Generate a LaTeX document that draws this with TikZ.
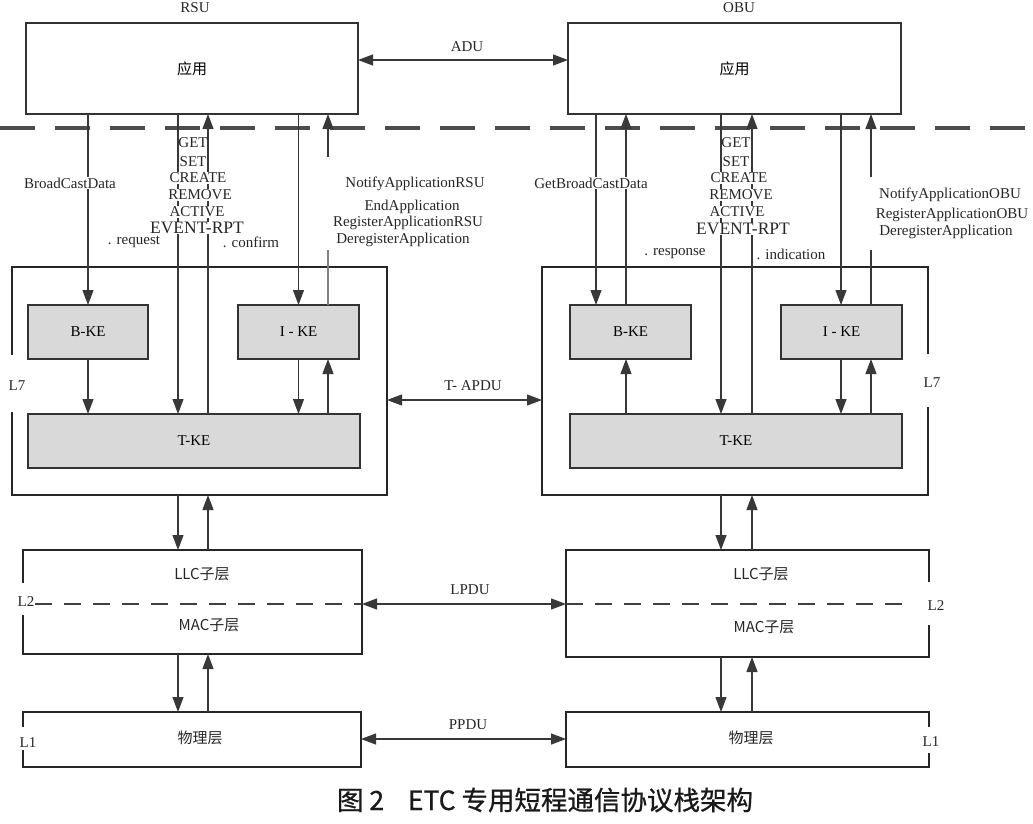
\documentclass[tikz,border=0pt]{standalone}
\usepackage{fontspec}
\setmainfont{Liberation Serif}
\newfontfamily\cjk{Noto Sans CJK SC}
\newfontfamily\cjkcap[FakeBold=0.8]{Noto Sans CJK SC}
\usetikzlibrary{arrows.meta,calc}
\begin{document}
\begin{tikzpicture}[x=1pt,y=-1pt,
 ln/.style={draw=black!78, line width=1.1pt},
 ar/.style={ln, -{Triangle[length=15pt,width=11pt]}},
 dar/.style={ln, {Triangle[length=15pt,width=11pt]}-{Triangle[length=15pt,width=11pt]}},
 box/.style={draw=black!80, line width=1.5pt, inner sep=0, outer sep=0},
 ke/.style={box, fill=black!15, font=\fontsize{15}{16}\selectfont},
 ghost/.style={inner sep=0, outer sep=0},
 frame/.style={draw=black!85, line width=2.2pt},
 tx/.style={inner sep=0.5pt, font=\fontsize{15}{16}\selectfont, text=black!85},
 wt/.style={tx, fill=white},
 big/.style={wt, font=\fontsize{17.5}{18}\selectfont},
 cj/.style={tx, font=\cjk\fontsize{15}{16}\selectfont},
]
\useasboundingbox (0,0) rectangle (1033,823);
\fill[white] (0,0) rectangle (1033,823);

% thick dashed separator
\draw[line width=4pt, draw=black!70, dash pattern=on 35pt off 20pt] (0,128) -- (1033,128);

% application boxes
\node[tx] (rsu) at (195,8) {RSU};
\node[tx] (obu) at (739,8) {OBU};
\node[box, minimum width=332, minimum height=91, font=\cjk\fontsize{15}{16}\selectfont] (rapp) at (192,68.5) {应用};
\node[box, minimum width=333, minimum height=91, font=\cjk\fontsize{15}{16}\selectfont] (oapp) at (734.5,68.5) {应用};

% L7 frames (ghost nodes + drawn borders)
\node[ghost, minimum width=375, minimum height=228] (rl7) at (199.5,381) {};
\node[ghost, minimum width=386, minimum height=228] (ol7) at (735,381) {};
\draw[frame] (12,355) |- (387,267) |- (12,495) -- (12,412);
\draw[frame] (928,354) |- (542,267) |- (928,495) -- (928,407);

% KE boxes
\node[ke, minimum width=120, minimum height=54] (rbke) at (88,332) {B-KE};
\node[ke, minimum width=121, minimum height=54] (rike) at (298.5,332) {I - KE};
\node[ke, minimum width=332, minimum height=54] (rtke) at (194,441) {T-KE};
\node[ke, minimum width=121, minimum height=54] (obke) at (630.5,332) {B-KE};
\node[ke, minimum width=121, minimum height=54] (oike) at (841.5,332) {I - KE};
\node[ke, minimum width=332, minimum height=54] (otke) at (736,441) {T-KE};

% LLC/MAC frames
\node[ghost, minimum width=339, minimum height=104] (rllc) at (192.5,602) {};
\node[ghost, minimum width=363, minimum height=107] (ollc) at (747.5,603.5) {};
\draw[frame] (23,583) |- (362,550) |- (23,654) -- (23,615);
\draw[frame] (929,582) |- (566,550) |- (929,657) -- (929,625);
\draw[draw=black!75, line width=2pt, dash pattern=on 17pt off 12pt] (35,604) -- (362,604);
\draw[draw=black!75, line width=2pt, dash pattern=on 17pt off 12pt] (566,604) -- (913,604);

% physical frames
\node[ghost, minimum width=338, minimum height=55] (rphy) at (192,739.5) {};
\node[ghost, minimum width=363, minimum height=55] (ophy) at (747.5,739.5) {};
\draw[frame] (23,727) |- (361,712) |- (23,767) -- (23,750);
\draw[frame] (929,727) |- (566,712) |- (929,767) -- (929,753);

% coordinates for connector columns
\coordinate (xa) at (178,0);
\coordinate (xb) at (208,0);
\coordinate (xc) at (328,0);
\coordinate (xd) at (596,0);
\coordinate (xe) at (626,0);
\coordinate (xf) at (721,0);
\coordinate (xg) at (752,0);
\coordinate (xh) at (841,0);
\coordinate (xi) at (871,0);
\coordinate (rn1) at (328,157);
\coordinate (rn2) at (328,250);
\coordinate (on1) at (871,177);
\coordinate (on2) at (871,250);
\coordinate (yadu) at (0,60);
\coordinate (yapdu) at (0,400);
\coordinate (ylpdu) at (0,604);
\coordinate (yppdu) at (0,739);

% RSU connectors
\draw[ar] (rapp.south -| rbke.north) -- (rbke.north);
\draw[ar] (rapp.south -| xa) -- (rtke.north -| xa);
\draw[ar] (rtke.north -| xb) -- (rapp.south -| xb);
\draw[ar] (rapp.south -| rike.north) -- (rike.north);
\draw[ln, draw=black!50] (rike.north -| rn2) -- (rn2);
\draw[ar] (rn1) -- (rapp.south -| rn1);
\draw[ar] (rbke.south) -- (rtke.north -| rbke.south);
\draw[ar] (rike.south) -- (rtke.north -| rike.south);
\draw[ar] (rtke.north -| xc) -- (rike.south -| xc);
\draw[ar] (rl7.south -| xa) -- (rllc.north -| xa);
\draw[ar] (rllc.north -| xb) -- (rl7.south -| xb);
\draw[ar] (rllc.south -| xa) -- (rphy.north -| xa);
\draw[ar] (rphy.north -| xb) -- (rllc.south -| xb);

% OBU connectors
\draw[ar] (oapp.south -| xd) -- (obke.north -| xd);
\draw[ar] (obke.north -| xe) -- (oapp.south -| xe);
\draw[ar] (oapp.south -| xf) -- (otke.north -| xf);
\draw[ar] (otke.north -| xg) -- (oapp.south -| xg);
\draw[ar] (oapp.south -| xh) -- (oike.north -| xh);
\draw[ln] (oike.north -| on2) -- (on2);
\draw[ar] (on1) -- (oapp.south -| on1);
\draw[ar] (otke.north -| xe) -- (obke.south -| xe);
\draw[ar] (oike.south -| xh) -- (otke.north -| xh);
\draw[ar] (otke.north -| xi) -- (oike.south -| xi);
\draw[ar] (ol7.south -| xf) -- (ollc.north -| xf);
\draw[ar] (ollc.north -| xg) -- (ol7.south -| xg);
\draw[ar] (ollc.south -| xf) -- (ophy.north -| xf);
\draw[ar] (ophy.north -| xg) -- (ollc.south -| xg);

% peer arrows
\draw[dar] (rapp.east |- yadu) -- (oapp.west |- yadu);
\draw[dar] (rl7.east |- yapdu) -- (ol7.west |- yapdu);
\draw[dar] (rllc.east |- ylpdu) -- (ollc.west |- ylpdu);
\draw[dar] (rphy.east |- yppdu) -- (ophy.west |- yppdu);
\node[tx] (adu) at (467,47) {ADU};
\node[tx] (tapdu) at (473,386) {T- APDU};
\node[tx] (lpdu) at (470,590) {LPDU};
\node[tx] (ppdu) at (468,725) {PPDU};

% RSU primitive labels
\node[wt] (bcd) at (70,183) {BroadCastData};
\node[tx] (rget) at (193,143) {GET};
\node[tx] (rset) at (193,162) {SET};
\node[wt] (rcre) at (198,178) {CREATE};
\node[wt] (rrem) at (200,195) {REMOVE};
\node[wt] (ract) at (197,212) {ACTIVE};
\node[big] (revt) at (197,228) {EVENT-RPT};
\node[tx] (rreq) at (134,242) {. request};
\node[tx] (rcon) at (251,242) {. confirm};
\node[tx] (rn) at (415,184) {NotifyApplicationRSU};
\node[tx] (re) at (412,207) {EndApplication};
\node[tx] (rr) at (408,223) {RegisterApplicationRSU};
\node[tx] (rd) at (403,240) {DeregisterApplication};

% OBU primitive labels
\node[wt] (gbcd) at (591,183) {GetBroadCastData};
\node[tx] (oget) at (736,143) {GET};
\node[tx] (oset) at (736,162) {SET};
\node[wt] (ocre) at (739,178) {CREATE};
\node[wt] (orem) at (741,195) {REMOVE};
\node[wt] (oact) at (737,212) {ACTIVE};
\node[big] (oevt) at (743,229) {EVENT-RPT};
\node[tx] (oresp) at (675,254) {. response};
\node[tx] (oind) at (791,254) {. indication};
\node[tx] (on) at (950,195) {NotifyApplicationOBU};
\node[tx] (or) at (952,215) {RegisterApplicationOBU};
\node[tx] (od) at (946,232) {DeregisterApplication};

% layer labels
\node[tx] (l7r) at (17,386) {L7};
\node[tx] (l7o) at (932,383) {L7};
\node[tx, fill=white] (l2r) at (26,602) {L2};
\node[tx] (l2o) at (936,606) {L2};
\node[tx] (l1r) at (28,743) {L1};
\node[tx] (l1o) at (931,742) {L1};

% sublayer texts
\node[cj] (rllct) at (202,574) {LLC子层};
\node[cj] (rmact) at (209,625) {MAC子层};
\node[cj] (rphyt) at (200,738) {物理层};
\node[cj] (ollct) at (761,574) {LLC子层};
\node[cj] (omact) at (764,627) {MAC子层};
\node[cj] (ophyt) at (751,738) {物理层};

% caption
\node[inner sep=0, font=\cjkcap\fontsize{26.5}{27}\selectfont, text=black!90] (cap) at (545,800) {图 2\hspace{0.9em}ETC 专用短程通信协议栈架构};
\end{tikzpicture}
\end{document}
